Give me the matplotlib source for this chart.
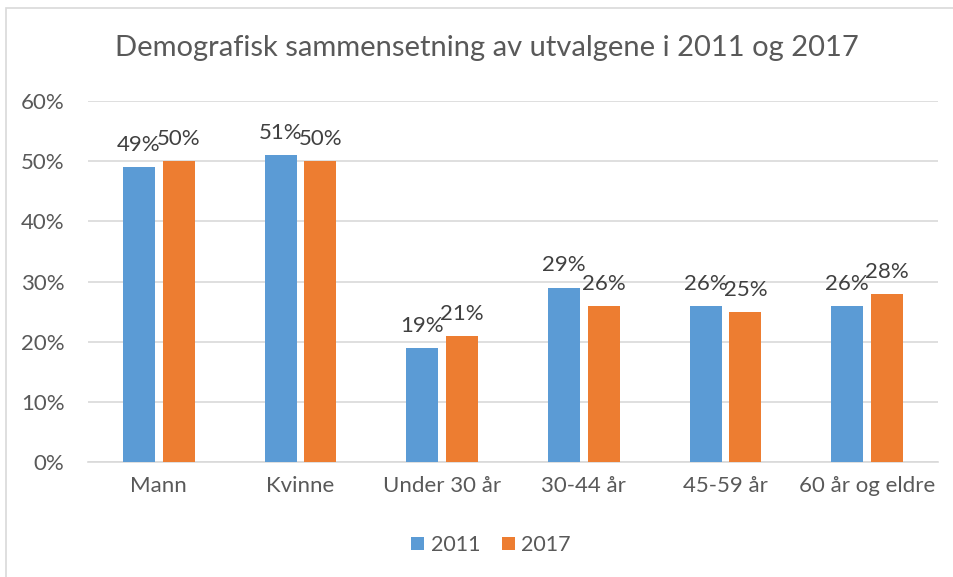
import numpy as np
import matplotlib.pyplot as plt
from matplotlib.patches import Rectangle

categories = ['Mann', 'Kvinne', 'Under 30 år', '30-44 år', '45-59 år', '60 år og eldre']
vals_2011 = [49, 51, 19, 29, 26, 26]
vals_2017 = [50, 50, 21, 26, 25, 28]
series_names = ['2011', '2017']
yticks = [0, 10, 20, 30, 40, 50, 60]

blue = '#5B9BD5'
orange = '#ED7D31'
txt = '#595959'
grid = '#D9D9D9'

plt.rcParams['font.family'] = ['Lato', 'DejaVu Sans']

W, H = 954, 577
fig = plt.figure(figsize=(W / 100, H / 100), dpi=100)
fig.patches.append(Rectangle((6 / W, -0.1), 1.2, (H - 8) / H + 0.1, transform=fig.transFigure,
                             fill=False, edgecolor=grid, linewidth=1.2))

ax = fig.add_axes([88 / W, (H - 462) / H, 850 / W, 361 / H])
x = np.arange(len(categories))
bw = 0.226
off = 0.141
b1 = ax.bar(x - off, vals_2011, bw, color=blue, label=series_names[0], zorder=3)
b2 = ax.bar(x + off, vals_2017, bw, color=orange, label=series_names[1], zorder=3)

for bars in (b1, b2):
    for r in bars:
        ax.text(r.get_x() + r.get_width() / 2, r.get_height() + 2.0, f'{r.get_height():.0f}%',
                ha='center', va='bottom', fontsize=16, color='#404040')

ax.set_xlim(-0.5, len(categories) - 0.5)
ax.set_ylim(0, 60)
ax.set_yticks(yticks)
ax.set_yticklabels([f'{v}%' for v in yticks])
ax.set_xticks(x)
ax.set_xticklabels(categories)
ax.tick_params(axis='both', length=0, labelsize=16, labelcolor=txt)
ax.tick_params(axis='y', pad=17)
ax.tick_params(axis='x', pad=10)
ax.grid(axis='y', color=grid, linewidth=1.2, zorder=0)
for s in ['top', 'right', 'left']:
    ax.spines[s].set_visible(False)
ax.spines['bottom'].set_color(grid)
ax.spines['bottom'].set_linewidth(1.2)

fig.text(487 / W, 1 - 48 / H, 'Demografisk sammensetning av utvalgene i 2011 og 2017',
         ha='center', va='center', fontsize=21, color=txt)

fig.legend(handles=[b1, b2], loc='center', bbox_to_anchor=(491 / W, 1 - 545 / H), ncol=2,
           frameon=False, fontsize=15.5, labelcolor=txt, handlelength=0.6, handleheight=0.6,
           columnspacing=1.0, handletextpad=0.3)

fig.savefig('out.png', dpi=100)
